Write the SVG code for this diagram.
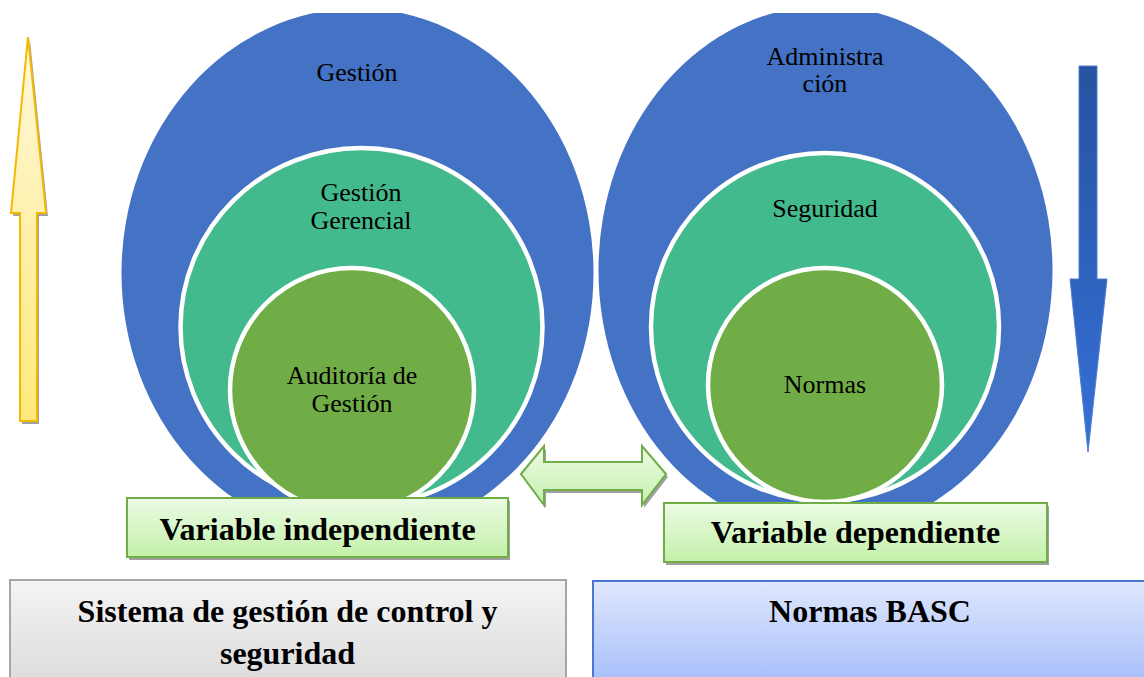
<svg xmlns="http://www.w3.org/2000/svg" width="1144" height="677" viewBox="0 0 1144 677">
<defs>
  <clipPath id="topclip"><rect x="0" y="13" width="1144" height="664"/></clipPath>
  <linearGradient id="gLabel" x1="0" y1="0" x2="0" y2="1">
    <stop offset="0" stop-color="#ecfbe4"/><stop offset="1" stop-color="#c3f0a9"/>
  </linearGradient>
  <linearGradient id="gDouble" x1="0" y1="0" x2="0" y2="1">
    <stop offset="0" stop-color="#ecfbe4"/><stop offset="1" stop-color="#c6f0ae"/>
  </linearGradient>
  <linearGradient id="gYellow" x1="0" y1="0" x2="0" y2="1">
    <stop offset="0" stop-color="#fff8dc"/><stop offset="1" stop-color="#ffe97c"/>
  </linearGradient>
  <linearGradient id="gBlueArrow" x1="0" y1="0" x2="0" y2="1">
    <stop offset="0" stop-color="#2753a0"/><stop offset="1" stop-color="#3670d8"/>
  </linearGradient>
  <linearGradient id="gGray" x1="0" y1="0" x2="0" y2="1">
    <stop offset="0" stop-color="#f4f4f4"/><stop offset="1" stop-color="#dadada"/>
  </linearGradient>
  <linearGradient id="gBlueBox" x1="0" y1="0" x2="0" y2="1">
    <stop offset="0" stop-color="#dfe7fc"/><stop offset="1" stop-color="#a2bbfa"/>
  </linearGradient>
</defs>
<style>
  .outer { fill: #4472c4; }
  .mid { fill: #43ba8e; stroke: #ffffff; stroke-width: 4.5; }
  .inner { fill: #70ad47; stroke: #ffffff; stroke-width: 4.5; }
  .lbl { font-family: "Liberation Serif", "Times New Roman", serif; font-size: 26px; font-weight: normal; fill: #000000; text-anchor: middle; }
  .b { font-family: "Liberation Serif", "Times New Roman", serif; font-size: 32px; font-weight: bold; fill: #000000; text-anchor: middle; }
  .label { fill: url(#gLabel); stroke: #70ad47; stroke-width: 2; }
  .shadow { fill: #a0a0a0; }
</style>

<g id="left-circles" clip-path="url(#topclip)">
  <ellipse class="outer" cx="357.5" cy="273" rx="236" ry="264.5"/>
  <ellipse class="mid" cx="361.5" cy="327" rx="181" ry="179"/>
  <ellipse class="inner" cx="352" cy="390" rx="122" ry="122"/>
  <g font-family="'Liberation Serif', 'Times New Roman', serif">
    <text class="lbl" x="357" y="81">Gestión</text>
    <text class="lbl" x="361" y="201">Gestión</text>
    <text class="lbl" x="361" y="229">Gerencial</text>
    <text class="lbl" x="352" y="384">Auditoría de</text>
    <text class="lbl" x="352" y="412">Gestión</text>
  </g>
</g>

<g id="right-circles" clip-path="url(#topclip)">
  <ellipse class="outer" cx="825.5" cy="270" rx="227" ry="264"/>
  <ellipse class="mid" cx="825" cy="327" rx="174" ry="174"/>
  <ellipse class="inner" cx="825" cy="385" rx="117" ry="117"/>
  <g font-family="'Liberation Serif', 'Times New Roman', serif">
    <text class="lbl" x="825" y="65">Administra</text>
    <text class="lbl" x="825" y="92">ción</text>
    <text class="lbl" x="825" y="217">Seguridad</text>
    <text class="lbl" x="825" y="393">Normas</text>
  </g>
</g>

<g id="connectors">
  <g id="double-arrow">
    <polygon class="shadow" points="523,477 546,449 546,465 644,465 644,449 668,477 644,508 644,493 546,493 546,508"/>
    <polygon points="521,474 544,446 544,462 642,462 642,446 666,474 642,505 642,490 544,490 544,505" fill="url(#gDouble)" stroke="#70ad47" stroke-width="2"/>
  </g>
</g>

<g id="label-independiente">
  <rect class="shadow" x="129" y="501" width="381" height="59"/>
  <rect class="label" x="127" y="498" width="381" height="59"/>
  <text class="b" x="317.5" y="540">Variable independiente</text>
</g>

<g id="label-dependiente">
  <rect class="shadow" x="666" y="506" width="383" height="59"/>
  <rect class="label" x="664" y="503" width="383" height="59"/>
  <text class="b" x="855.5" y="543">Variable dependiente</text>
</g>

<g id="box-sistema">
  <rect x="10" y="580" width="556" height="110" fill="url(#gGray)" stroke="#a6a6a6" stroke-width="2"/>
  <text class="b" x="287.5" y="622">Sistema de gestión de control y</text>
  <text class="b" x="287.5" y="664">seguridad</text>
</g>

<g id="box-basc">
  <rect x="593" y="581" width="570" height="110" fill="url(#gBlueBox)" stroke="#4a78d0" stroke-width="2"/>
  <text class="b" x="870" y="622">Normas BASC</text>
</g>

<g id="arrow-up">
  <polygon class="shadow" points="30,40 48,216 39,216 39,424 22,424 22,216 13,216"/>
  <polygon points="28,37 46,213 37,213 37,421 20,421 20,213 11,213" fill="url(#gYellow)" stroke="#f5b800" stroke-width="2" stroke-linejoin="miter"/>
</g>

<g id="arrow-down">
  <polygon points="1079,66 1097,66 1097,279 1107,279 1088,452 1070,279 1079,279" fill="url(#gBlueArrow)" stroke="#4f7fd0" stroke-width="1"/>
</g>
</svg>
